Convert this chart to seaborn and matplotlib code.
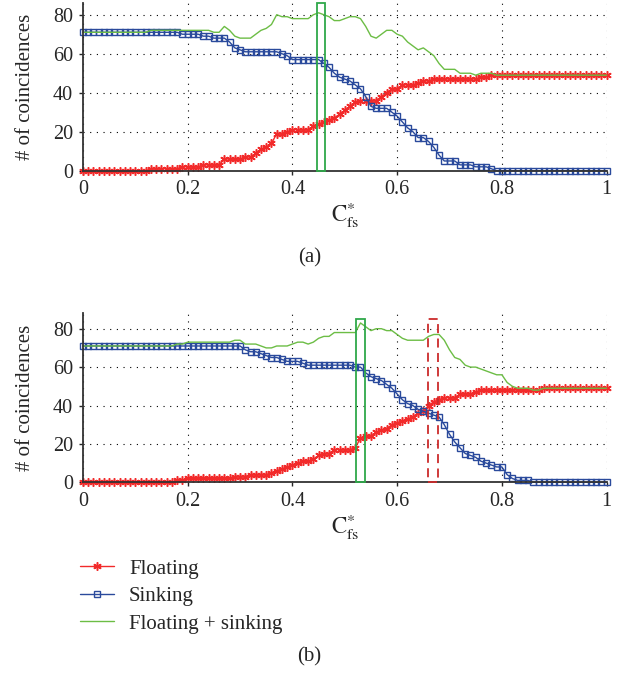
import numpy as np
import pandas as pd
import seaborn as sns
import matplotlib.pyplot as plt
from matplotlib.patches import Rectangle
from matplotlib.ticker import FormatStrFormatter

# threshold C*_fs, sampled every 0.01
thresholds = np.round(np.linspace(0, 1, 101), 2)

# panel (a)
floating_a = [0, 0, 0, 0, 0, 0, 0, 0, 0, 0, 0, 0, 0,
              1, 1, 1, 1, 1, 1, 2, 2, 2, 2, 3, 3, 3, 3, 6, 6, 6, 6, 7, 7,
              9, 11, 12, 14, 19, 19, 20, 21, 21, 21, 21,
              23, 24, 25, 26, 27, 29, 31, 33, 35, 36, 36, 36, 36,
              38, 40, 42, 42, 44, 44, 44, 45, 46, 46,
              47, 47, 47, 47, 47, 47, 47, 47, 47, 48, 48,
              49, 49, 49, 49, 49, 49, 49, 49, 49, 49, 49, 49,
              49, 49, 49, 49, 49, 49, 49, 49, 49, 49, 49]
sinking_a = [71, 71, 71, 71, 71, 71, 71, 71, 71, 71, 71, 71, 71, 71, 71, 71, 71, 71, 71,
             70, 70, 70, 70, 69, 69, 68, 68, 68, 66, 63, 62,
             61, 61, 61, 61, 61, 61, 61, 60, 59, 57, 57, 57, 57, 57, 57,
             55, 53, 50, 48, 47, 46, 44, 42, 38, 33, 32, 32, 32,
             30, 28, 25, 22, 20, 17, 17, 15, 12, 8, 5, 5, 5, 3, 3, 3, 2, 2, 2, 1,
             0, 0, 0, 0, 0, 0, 0, 0, 0, 0, 0, 0, 0, 0, 0, 0, 0, 0, 0, 0, 0, 0]

# panel (b)
floating_b = [0, 0, 0, 0, 0, 0, 0, 0, 0, 0, 0, 0, 0, 0, 0, 0, 0, 0,
              1, 1, 2, 2, 2, 2, 2, 2, 2, 2, 2, 3, 3, 3, 4, 4, 4, 4,
              5, 6, 7, 8, 9, 10, 11, 11, 12, 14, 15, 15, 17, 17, 17, 17,
              18, 23, 24, 24, 26, 27, 28, 30, 31, 32, 33, 34, 36, 37, 40, 42, 43,
              44, 44, 44, 46, 46, 46, 47,
              48, 48, 48, 48, 48, 48, 48, 48, 48, 48, 48, 48,
              49, 49, 49, 49, 49, 49, 49, 49, 49, 49, 49, 49, 49]
sinking_b = [71, 71, 71, 71, 71, 71, 71, 71, 71, 71, 71, 71, 71, 71, 71, 71,
             71, 71, 71, 71, 71, 71, 71, 71, 71, 71, 71, 71, 71, 71, 71,
             69, 68, 68, 67, 66, 65, 65, 64, 63, 63, 63, 62,
             61, 61, 61, 61, 61, 61, 61, 61, 61,
             60, 60, 57, 55, 54, 53, 51, 49, 46, 43,
             41, 40, 38, 37, 36, 35, 34, 30, 25, 21,
             18, 15, 14, 13, 11, 10, 9, 8, 8, 4, 2, 1, 1, 1,
             0, 0, 0, 0, 0, 0, 0, 0, 0, 0, 0, 0, 0, 0, 0]

# highlighted threshold windows: (left, right, top)
window_a = (0.446, 0.463, 86)
window_b_green = (0.522, 0.539, 85)
window_b_red = (0.659, 0.678, 85)

red = "#f22a2a"
blue = "#2a4a9c"
green = "#6cbd45"
fs = 14.5

sns.set_theme(style="ticks")
plt.rcParams["font.family"] = ["Liberation Serif", "DejaVu Serif"]
plt.rcParams["mathtext.fontset"] = "stix"

fig = plt.figure(figsize=(6.19, 6.74), dpi=100)
ax_a = fig.add_axes([0.134, 0.7467, 0.846, 0.2488])
ax_b = fig.add_axes([0.134, 0.2844, 0.846, 0.2507])


def draw(ax, floating, sinking, ytop):
    df = pd.DataFrame({"c": thresholds, "floating": floating, "sinking": sinking})
    df["total"] = df["floating"] + df["sinking"]
    sns.lineplot(data=df, x="c", y="floating", ax=ax, color=red, lw=1,
                 marker=(6, 2, 0), markersize=6, mec=red, mew=1.1,
                 label="Floating", clip_on=False)
    sns.lineplot(data=df, x="c", y="sinking", ax=ax, color=blue, lw=1,
                 marker="s", markersize=5, mec=blue, mfc="none", mew=1,
                 label="Sinking", clip_on=False)
    sns.lineplot(data=df, x="c", y="total", ax=ax, color=green, lw=1,
                 label="Floating + sinking", clip_on=False)
    ax.set_xlim(0, 1)
    ax.set_ylim(0, ytop)
    ax.set_xticks([0, 0.2, 0.4, 0.6, 0.8, 1])
    ax.set_yticks([0, 20, 40, 60, 80])
    ax.xaxis.set_major_formatter(FormatStrFormatter("%g"))
    ax.grid(True, color="black", linestyle=(0, (1, 5)), linewidth=0.8)
    ax.tick_params(direction="out", length=3, width=1, labelsize=fs, pad=4)
    sns.despine(ax=ax)
    for s in ("left", "bottom"):
        ax.spines[s].set_color("#333333")
        ax.spines[s].set_linewidth(1.3)
    ax.set_ylabel("# of coincidences", fontsize=fs + 0.5)
    ax.set_xlabel(r"$\mathrm{C}^{*}_{\mathrm{fs}}$", fontsize=16.5, labelpad=1)
    ax.yaxis.set_label_coords(-0.092, 0.5)
    if ax.get_legend() is not None:
        ax.get_legend().remove()


def window(ax, box, color, ls):
    x0, x1, top = box
    ax.add_patch(Rectangle((x0, 0), x1 - x0, top, fill=False, edgecolor=color,
                           linewidth=1.3, linestyle=ls, clip_on=False, zorder=5))


draw(ax_a, floating_a, sinking_a, 86)
window(ax_a, window_a, "#2fa84a", "-")
draw(ax_b, floating_b, sinking_b, 88)
window(ax_b, window_b_green, "#2fa84a", "-")
window(ax_b, window_b_red, "#cc2b2b", (0, (5, 3)))

fig.text(0.5, 1 - 258 / 674, "(a)", ha="center", va="center", fontsize=fs + 0.5)
fig.text(0.5, 1 - 657 / 674, "(b)", ha="center", va="center", fontsize=fs + 0.5)

handles, labels = ax_b.get_legend_handles_labels()
fig.legend(handles, labels, loc="upper left", bbox_to_anchor=(80 / 619, 1 - 559 / 674),
           frameon=False, fontsize=15, handlelength=1.65, handletextpad=0.7,
           labelspacing=0.38, borderpad=0, borderaxespad=0)

fig.savefig("out.png", dpi=100)
